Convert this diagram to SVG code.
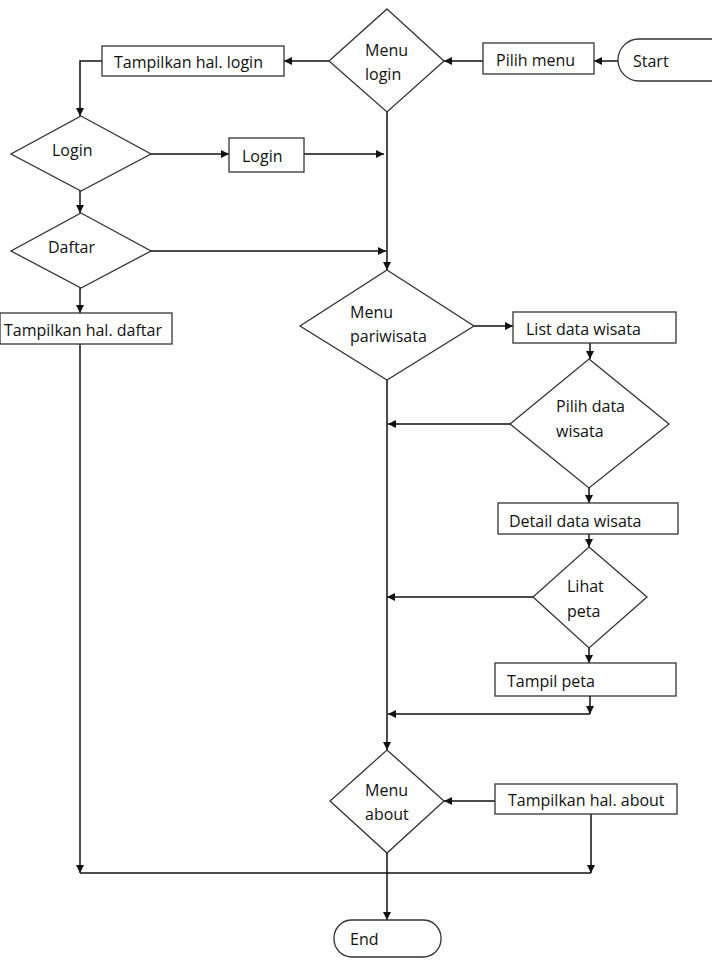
<svg xmlns="http://www.w3.org/2000/svg" width="712" height="977" viewBox="0 0 712 977">
<style>
.shape{fill:#fff;stroke:#333;stroke-width:1.3}
.line{fill:none;stroke:#111;stroke-width:1.5}
.arr{marker-end:url(#ah)}
text{font-family:"Open Sans","Noto Sans",sans-serif;font-size:16px;fill:#111}
</style>
<defs>
<marker id="ah" viewBox="0 0 10 10" refX="10" refY="5" markerWidth="9" markerHeight="8" markerUnits="userSpaceOnUse" orient="auto">
<path d="M0,0 L10,5 L0,10 z" fill="#111"/>
</marker>
</defs>
<rect width="712" height="977" fill="#fff"/>

<g id="connectors">
<line class="line arr" x1="618" y1="61" x2="594" y2="61"/>
<line class="line arr" x1="483" y1="61" x2="444" y2="61"/>
<line class="line arr" x1="329" y1="61" x2="284" y2="61"/>
<polyline class="line arr" points="102,61 80,61 80,116"/>
<line class="line arr" x1="151" y1="154" x2="229" y2="154"/>
<line class="line arr" x1="304" y1="154" x2="384" y2="154"/>
<line class="line arr" x1="387" y1="112" x2="387" y2="270"/>
<line class="line arr" x1="80" y1="191" x2="80" y2="213"/>
<line class="line arr" x1="151" y1="251" x2="386" y2="251"/>
<line class="line arr" x1="80" y1="288" x2="80" y2="313"/>
<line class="line arr" x1="80" y1="344" x2="80" y2="873"/>
<line class="line arr" x1="474" y1="326" x2="513" y2="326"/>
<line class="line arr" x1="590" y1="343" x2="590" y2="359"/>
<line class="line arr" x1="510" y1="424" x2="388" y2="424"/>
<line class="line arr" x1="387" y1="380" x2="387" y2="750"/>
<line class="line arr" x1="589" y1="488" x2="589" y2="503"/>
<line class="line arr" x1="589" y1="534" x2="589" y2="547"/>
<line class="line arr" x1="533" y1="597" x2="387" y2="597"/>
<line class="line arr" x1="589" y1="648" x2="589" y2="663"/>
<line class="line arr" x1="590" y1="696" x2="590" y2="714"/>
<line class="line arr" x1="590" y1="714" x2="388" y2="714"/>
<line class="line arr" x1="495" y1="801" x2="444" y2="801"/>
<line class="line arr" x1="591" y1="814" x2="591" y2="873"/>
<line class="line" x1="80" y1="873" x2="591" y2="873"/>
<line class="line arr" x1="387" y1="853" x2="387" y2="920"/>
</g>

<g id="start">
<rect class="shape" x="618" y="39" width="130" height="42" rx="21"/>
<text x="633" y="67">Start</text>
</g>
<g id="pilih-menu">
<rect class="shape" x="483" y="43" width="111" height="31"/>
<text x="496" y="66">Pilih menu</text>
</g>
<g id="menu-login">
<polygon class="shape" points="387,9 444,61 387,112 329,61"/>
<text x="365" y="56">Menu</text>
<text x="365" y="80">login</text>
</g>
<g id="tampilkan-login">
<rect class="shape" x="102" y="46" width="182" height="30"/>
<text x="114" y="68">Tampilkan hal. login</text>
</g>
<g id="login-decision">
<polygon class="shape" points="81,116 151,154 81,191 11,154"/>
<text x="52" y="156">Login</text>
</g>
<g id="login-box">
<rect class="shape" x="229" y="138" width="75" height="34"/>
<text x="242" y="162">Login</text>
</g>
<g id="daftar">
<polygon class="shape" points="81,213 151,251 81,288 11,251"/>
<text x="48" y="253">Daftar</text>
</g>
<g id="tampilkan-daftar">
<rect class="shape" x="0" y="313" width="172" height="31"/>
<text x="4" y="336">Tampilkan hal. daftar</text>
</g>
<g id="menu-pariwisata">
<polygon class="shape" points="387,270 474,326 387,380 300,326"/>
<text x="350" y="318">Menu</text>
<text x="350" y="342">pariwisata</text>
</g>
<g id="list-data">
<rect class="shape" x="513" y="312" width="163" height="31"/>
<text x="526" y="335">List data wisata</text>
</g>
<g id="pilih-data">
<polygon class="shape" points="589,359 669,424 589,488 510,424"/>
<text x="556" y="412">Pilih data</text>
<text x="556" y="437">wisata</text>
</g>
<g id="detail-data">
<rect class="shape" x="498" y="503" width="180" height="31"/>
<text x="509" y="527">Detail data wisata</text>
</g>
<g id="lihat-peta">
<polygon class="shape" points="589,547 647,597 589,648 533,597"/>
<text x="567" y="592">Lihat</text>
<text x="567" y="617">peta</text>
</g>
<g id="tampil-peta">
<rect class="shape" x="495" y="663" width="181" height="33"/>
<text x="507" y="687">Tampil peta</text>
</g>
<g id="menu-about">
<polygon class="shape" points="387,750 444,801 387,853 330,801"/>
<text x="365" y="796">Menu</text>
<text x="365" y="820">about</text>
</g>
<g id="tampilkan-about">
<rect class="shape" x="495" y="784" width="182" height="30"/>
<text x="508" y="806">Tampilkan hal. about</text>
</g>
<g id="end">
<rect class="shape" x="334" y="920" width="107" height="37" rx="18"/>
<text x="350" y="945">End</text>
</g>
</svg>
